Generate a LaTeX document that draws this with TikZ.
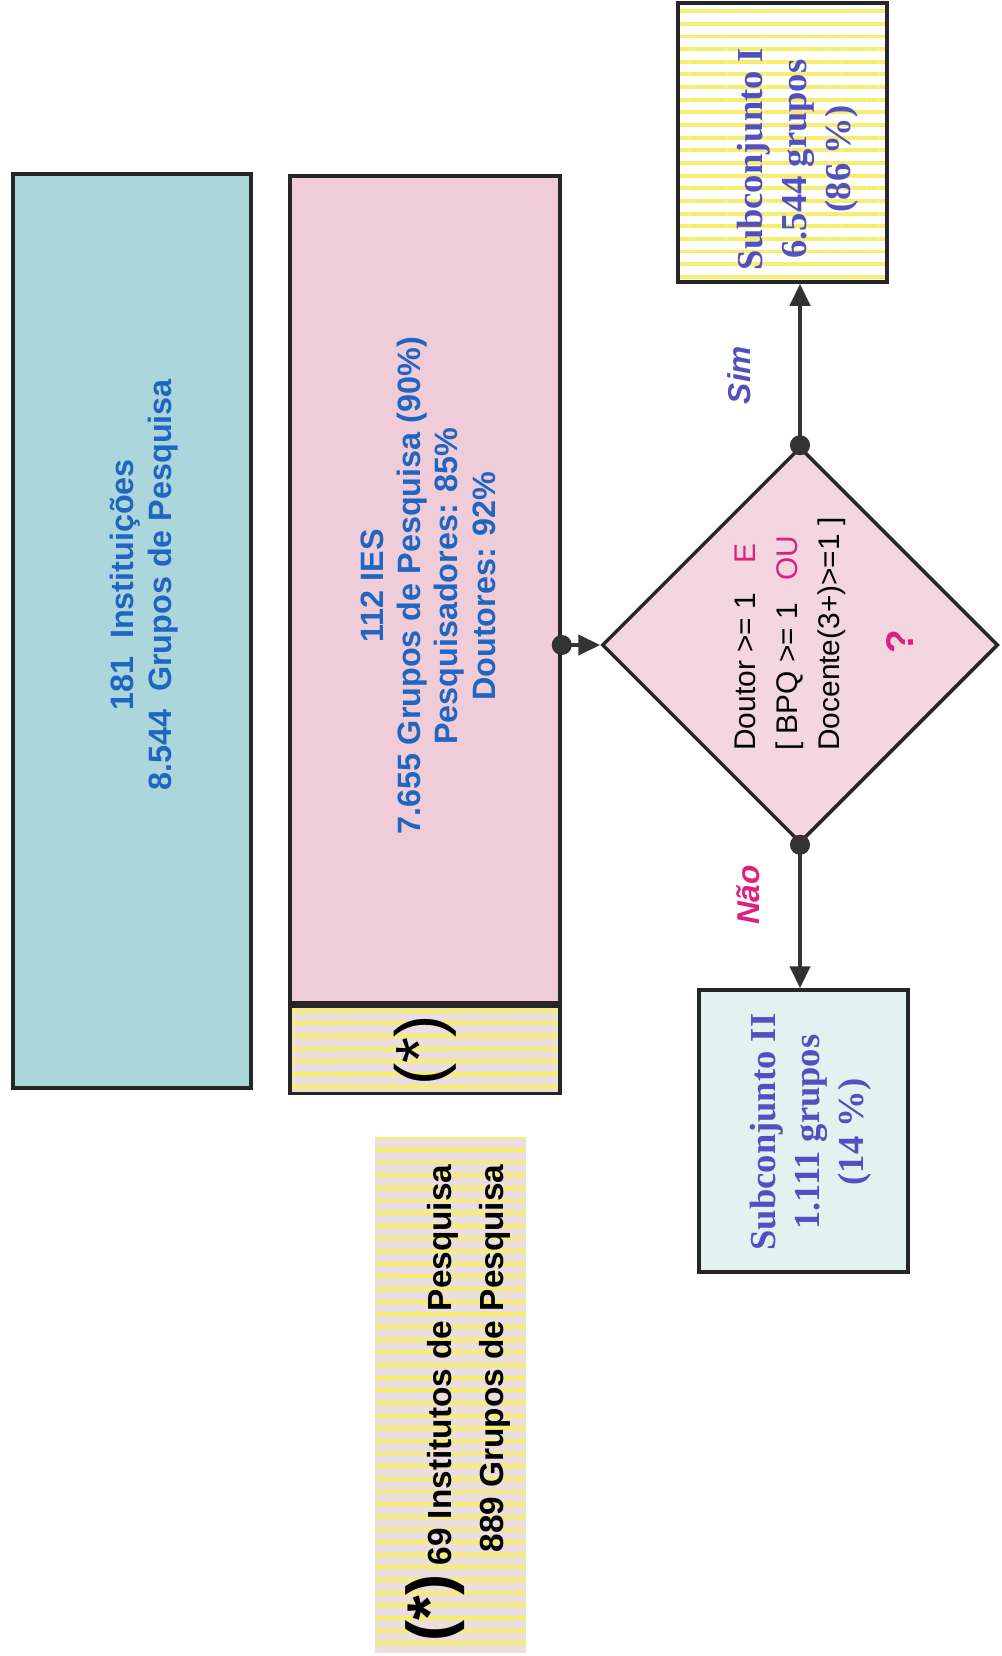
\documentclass[tikz,border=0pt]{standalone}
\usepackage{fontspec}
\setmainfont{Liberation Sans}
\newfontfamily\serifbf{Liberation Serif}
\usetikzlibrary{shapes.geometric,arrows.meta,positioning,calc,patterns.meta}

\definecolor{instblue}{RGB}{170,214,220}
\definecolor{iespink}{RGB}{240,204,216}
\definecolor{txtblue}{RGB}{32,102,192}
\definecolor{magent}{RGB}{222,32,128}
\definecolor{subviolet}{RGB}{82,80,192}
\definecolor{stripey}{RGB}{245,238,110}
\definecolor{lavbg}{RGB}{236,222,220}
\definecolor{subcyan}{RGB}{226,242,240}

\tikzset{
  box/.style={draw=black!85, line width=1pt, inner sep=0pt},
  vtext/.style={rotate=90, align=center, inner sep=0pt},
  striped/.style={preaction={fill=#1},
    pattern={Lines[angle=0,distance=3.6pt,line width=1.1pt]}, pattern color=stripey},
  link/.style={line width=1.2pt, draw=black!80,
    {Circle[length=2mm]}-{Triangle[length=2.2mm,width=2mm]}, shorten <=-1mm},
}

\begin{document}
\begin{tikzpicture}[x=0.1mm, y=-0.1mm]
  \useasboundingbox (0,0) rectangle (1001,1656);

  % all institutions
  \node[box, fill=instblue, minimum width=23.8mm, minimum height=91.4mm]
    (inst) at (132,631) {};
  \node[vtext, font=\fontsize{9.2}{10.8}\selectfont\bfseries, text=txtblue]
    (instlbl) at (144,585) {181\ \ Instituições\\8.544\ \ Grupos de Pesquisa};

  % IES + institutes
  \node[box, fill=iespink, minimum width=27mm, minimum height=82.7mm]
    (ies) at (425,589.5) {};
  \node[vtext, font=\fontsize{9.2}{10.6}\selectfont\bfseries, text=txtblue]
    (ieslbl) at (428,586)
    {112 IES\\7.655 Grupos de Pesquisa (90\%)\\Pesquisadores: 85\%\\Doutores: 92\%};
  \node[box, striped=lavbg, minimum width=27mm, minimum height=8.7mm,
        below=0pt of ies] (inpq) {};
  \node[vtext, font=\fontsize{19}{19}\selectfont] (inpqlbl) at (inpq) {(*)};

  % decision
  \node[draw=black!85, line width=1pt, fill=iespink!80, diamond, aspect=1,
        minimum width=39.6mm, minimum height=39.6mm, inner sep=0pt]
    (dec) at (800,645) {};
  \node[vtext, align=left, font=\fontsize{8.5}{12}\selectfont]
    (cond) at (790,634)
    {Doutor >= 1\quad\textcolor{magent}{E}\\{[} BPQ >= 1\hspace{.75em}\textcolor{magent}{OU}\\Docente(3+)>=1 ]};
  \node[vtext, font=\fontsize{11}{11}\selectfont\bfseries, text=magent]
    (qmark) at (900,642) {?};

  % subsets
  \node[box, striped=white, minimum width=20.9mm, minimum height=27.9mm]
    (sub1) at (782.5,142.5) {};
  \node[vtext, font=\serifbf\fontsize{10.4}{12.5}\selectfont\bfseries, text=subviolet]
    (sub1lbl) at (798,159) {Subconjunto I\\6.544 grupos\\(86 \%)};
  \node[box, fill=subcyan, minimum width=20.9mm, minimum height=28.2mm]
    (sub2) at (803.5,1131) {};
  \node[vtext, font=\serifbf\fontsize{10.4}{12.5}\selectfont\bfseries, text=subviolet]
    (sub2lbl) at (811,1132) {Subconjunto II\\1.111 grupos\\(14 \%)};

  % connectors
  \draw[link] (ies.east |- dec.west) -- (dec.west);
  \draw[link] (dec.north) -- (dec.north |- sub1.south);
  \draw[link] (dec.south) -- (dec.south |- sub2.north);
  \node[vtext, font=\fontsize{9}{9}\selectfont\bfseries\itshape, text=subviolet]
    (sim) at (739,375) {Sim};
  \node[vtext, font=\fontsize{9}{9}\selectfont\bfseries\itshape, text=magent]
    (nao) at (748,895) {Não};

  % footnote
  \node[striped=lavbg, minimum width=15.1mm, minimum height=51.6mm, inner sep=0pt]
    (foot) at (450.5,1395) {};
  \node[vtext, align=right, font=\fontsize{9.5}{15}\selectfont\bfseries]
    (footlbl) at (458,1403)
    {{\fontsize{18}{18}\selectfont(*)} 69 Institutos de Pesquisa\\889 Grupos de Pesquisa};
\end{tikzpicture}
\end{document}
